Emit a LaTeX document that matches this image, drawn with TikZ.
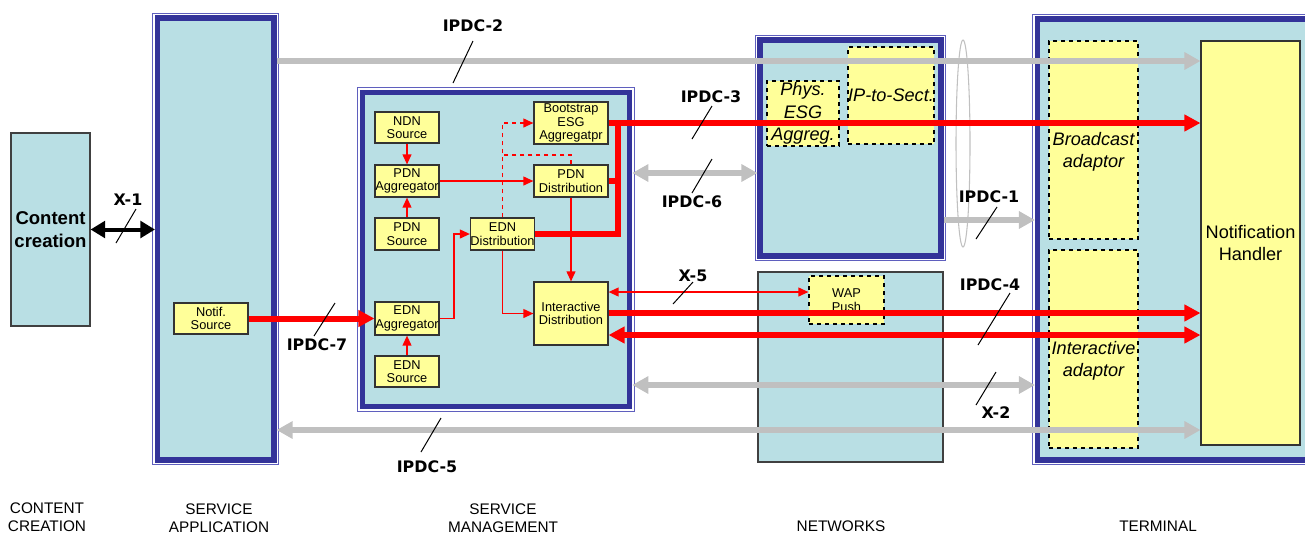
\documentclass[tikz,border=0pt]{standalone}
\usepackage{fontspec}
\setmainfont{Liberation Sans}
\newfontfamily\lblfont{DejaVu Sans}
\usetikzlibrary{arrows.meta}
\definecolor{cyanfill}{RGB}{185,223,228}
\definecolor{bandblue}{RGB}{51,51,153}
\definecolor{frameblue}{RGB}{95,95,190}
\definecolor{yel}{RGB}{255,255,153}
\definecolor{grayc}{RGB}{192,192,192}

\begin{document}
\begin{tikzpicture}
  [x=.75pt,y=-.75pt,
   sz/.style 2 args={minimum width=#1*.75pt,minimum height=#2*.75pt},
   frm/.style={rectangle,draw=bandblue,line width=3.8pt,fill=cyanfill},
   rim/.style={draw=frameblue,line width=.8pt},
   netbox/.style={rectangle,draw=black!75,line width=.8pt,fill=cyanfill,inner sep=0pt,align=center},
   blk/.style={rectangle,draw=black!80,line width=.8pt,fill=yel,inner sep=0pt,align=center,font=\fontsize{9.6}{10}\selectfont},
   dbox/.style={rectangle,draw=black,dashed,line width=.8pt,fill=yel,inner sep=0pt,align=center,font=\fontsize{13.6}{16.8}\selectfont\itshape},
   dtext/.style={label={[align=center,inner sep=0pt,font=\fontsize{13.6}{16.8}\selectfont\itshape,yshift=-9pt]center:#1}},
   rln/.style={draw=red,line width=1.3pt,>={Triangle[length=7.5pt,width=6.5pt]}},
   rbus/.style={draw=red,line width=4.5pt,>={Triangle[length=12pt,width=12pt]}},
   gry/.style={draw=grayc,line width=3.9pt,>={Triangle[length=12pt,width=12.5pt]}},
   xarr/.style={draw=black,line width=3pt,>={Triangle[length=11pt,width=12.5pt]}},
   tk/.style={draw=black,line width=.75pt},
   lbl/.style={font=\lblfont\bfseries\fontsize{11.9}{14}\selectfont,inner sep=0pt},
   capt/.style={anchor=north,inner sep=0pt,align=center,font=\fontsize{11.5}{12.8}\selectfont}]
  \useasboundingbox (0,0) rectangle (1305,537);
  \clip (0,0) rectangle (1305,537);

  \node[netbox,sz={79}{193},font=\fontsize{13.9}{17.5}\selectfont\bfseries] (cc) at (50.5,229.5) {Content\\creation};
  \node[frm,sz={116.5}{442}] (sa) at (215.75,239) {};
  \node[frm,sz={267.5}{314}] (sm) at (496,249.5) {};
  \node[frm,sz={181}{216}] (nwu) at (850.5,148) {};
  \node[netbox,sz={185}{190}] (nwl) at (850.5,367) {};
  \node[frm,sz={292.5}{441}] (term) at (1183.75,239.5) {};
  \foreach \b in {sa,sm,nwu,term}
    \draw[rim] ([shift={(-2.3,-2.3)}]\b.north west) rectangle ([shift={(2.3,2.3)}]\b.south east);

  \node[blk,sz={74}{31}] (ns) at (211,318.5) {Notif.\\Source};
  \node[blk,sz={64}{31}] (ndn) at (407,127.5) {NDN\\Source};
  \node[blk,sz={64}{32}] (pda) at (407,181) {PDN\\Aggregator};
  \node[blk,sz={64}{32}] (pds) at (407,234) {PDN\\Source};
  \node[blk,sz={64}{33}] (eda) at (407,318.5) {EDN\\Aggregator};
  \node[blk,sz={64}{31}] (eds) at (407,371.5) {EDN\\Source};
  \node[blk,sz={63}{32}] (edd) at (502.5,234) {EDN\\Distribution};
  \node[blk,sz={74}{42}] (bsa) at (571,123) {Bootstrap\\ESG\\Aggregatpr};
  \node[blk,sz={74}{32}] (pdd) at (571,181) {PDN\\Distribution};
  \node[blk,sz={74}{63}] (idd) at (571,313.5) {Interactive\\Distribution};

  \node[dbox,sz={72}{65}] (pea) at (803,113.5) {Phys.\\ESG\\Aggreg.};
  \node[dbox,sz={86}{97}] (ips) at (891,95.5) {IP-to-Sect.};
  \node[dbox,sz={75}{48},font=\fontsize{9.6}{10.5}\selectfont] (wap) at (846.5,300) {WAP\\Push};
  \node[dbox,sz={89}{198},dtext={Broadcast\\adaptor}] (bca) at (1093.5,140) {};
  \node[dbox,sz={89}{198},dtext={Interactive\\adaptor}] (iad) at (1093.5,349) {};
  \node[blk,sz={99}{404},font=\fontsize{13.6}{16.3}\selectfont] (nh) at (1250.5,243) {Notification\\Handler};

  \draw[grayc,line width=.8pt] (963,143.5) ellipse [x radius=5.25pt,y radius=77.6pt];

  \draw[xarr,<->] (cc.east) -- (sa.west |- cc.east);
  \draw[gry,->] (sa.east |- 0,61) -- (nh.west |- 0,61);
  \draw[gry,<->] (sm.east |- 0,173) -- (nwu.west |- 0,173);
  \draw[gry,->] (nwu.east |- 0,220) -- (term.west |- 0,220);
  \draw[gry,<->] (sm.east |- 0,385) -- (term.west |- 0,385);
  \draw[gry,<->] (sa.east |- 0,430) -- (nh.west |- 0,430);

  \coordinate (bus) at (618,123);
  \draw[rbus] (edd.east) -| (bus);
  \draw[rbus] (pdd.east) -- (pdd.east -| bus);
  \draw[rbus,->] (bsa.east) -- (nh.west |- bsa.east);
  \draw[rbus,->] (ns.east) -- (eda.west);
  \draw[rbus,->] (idd.east |- 0,313) -- (nh.west |- 0,313);
  \draw[rbus,<->] (idd.east |- 0,335) -- (nh.west |- 0,335);

  \foreach \from/\to in {ndn.south/pda.north, pds.north/pda.south, eds.north/eda.south, pda.east/pdd.west, pdd.south/idd.north}
    \draw[rln,->] (\from) -- (\to);
  \draw[rln,->] (eda.east) -| ([xshift=-12pt]edd.west) -- (edd.west);
  \draw[rln,->] (edd.south) |- (idd.west);
  \draw[rln,<->] (idd.east |- 0,292) -- (wap.west |- 0,292);
  \draw[rln,dashed,->] (edd.north) |- (bsa.west);
  \draw[rln,dashed] (pdd.north) |- (edd.north |- 0,155);

  \foreach \t/\x/\y [count=\i] in {X-1/128/200, IPDC-2/473/26, IPDC-3/711/97, IPDC-6/692/202, IPDC-1/989/197, X-5/693/276, IPDC-4/990/285, X-2/996/413, IPDC-7/317/345, IPDC-5/427/467}
    \node[lbl] (l\i) at (\x,\y) {\t};
  \foreach \a/\b/\c/\d in {116/243/136/209, 453/83/473/41, 692/139/712/106, 692/193/712/159, 976/239/997/207, 673/304/693/282, 978/345/1010/293, 976/405/996/372, 314/336/335/303, 421/452/441/418}
    \draw[tk] (\a,\b) -- (\c,\d);

  \node[capt] (c1) at (47,503) {CONTENT\\CREATION};
  \node[capt] (c2) at (219,504) {SERVICE\\APPLICATION};
  \node[capt] (c3) at (503,504) {SERVICE\\MANAGEMENT};
  \node[capt] (c4) at (841,521) {NETWORKS};
  \node[capt] (c5) at (1158,521) {TERMINAL};
\end{tikzpicture}
\end{document}
